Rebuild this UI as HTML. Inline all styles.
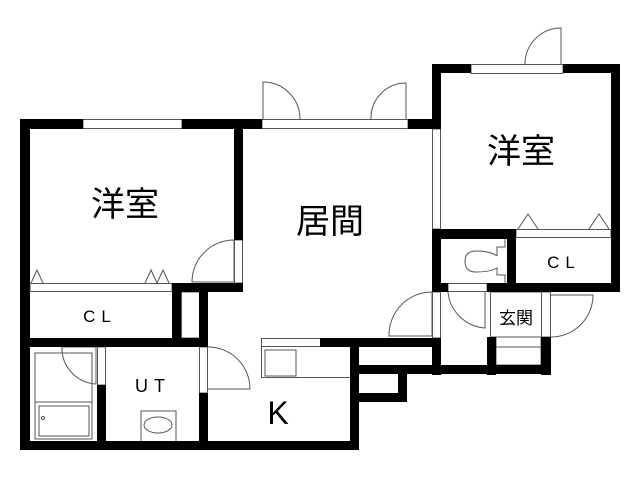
<!DOCTYPE html>
<html><head><meta charset="utf-8"><style>
html,body{margin:0;padding:0;background:#fff;width:640px;height:480px;overflow:hidden}
text{font-family:"Liberation Sans","Noto Sans CJK JP",sans-serif;fill:#000}
</style></head><body>
<svg width="640" height="480" viewBox="0 0 640 480" xmlns="http://www.w3.org/2000/svg">
<g fill="none" stroke="#555" stroke-width="1">
<!-- windows -->
<rect x="83" y="119.5" width="99" height="9" fill="#fff"/>
<rect x="262" y="119.5" width="146" height="9" fill="#fff"/>
<rect x="471" y="64.5" width="92" height="9" fill="#fff"/>
<!-- thin walls -->
<rect x="432.5" y="129" width="8" height="100"/>
<rect x="432.5" y="292" width="8" height="46"/>
<rect x="234.5" y="240" width="8" height="43"/>
<rect x="97.5" y="347" width="8" height="38"/>
<rect x="199.5" y="347" width="8" height="46"/>
<rect x="448" y="283.5" width="39" height="8" fill="#fff"/>
<rect x="541.5" y="292" width="9" height="45"/>
<!-- CL rails -->
<rect x="30" y="283.5" width="142" height="8"/>
<rect x="516" y="229.5" width="95" height="8"/>
<rect x="181.5" y="292" width="18" height="46"/>
<!-- genkan -->
<rect x="490.5" y="292" width="51" height="45"/>
<rect x="496" y="337" width="45" height="28"/>
<line x1="496" y1="347" x2="541" y2="347"/>
<!-- kitchen counter -->
<rect x="261.5" y="338.5" width="89" height="39"/>
<rect x="261.5" y="338.5" width="59" height="8"/>
<rect x="265" y="350" width="31" height="26"/>
<!-- bath -->
<rect x="35" y="353" width="57" height="86"/>
<line x1="35" y1="402" x2="92" y2="402"/>
<rect x="39" y="406" width="50" height="30"/>
<circle cx="43" cy="418" r="1.5"/>
<!-- washbasin -->
<rect x="141" y="411" width="35" height="31"/>
<ellipse cx="158" cy="425" rx="14" ry="8"/>
<!-- toilet -->
<path d="M497 256 L497 247 L505 247 L505 239 M505 283 L505 275 L497 275 L497 268 Q490 272 476 272 Q465 272 465 261.5 Q465 251 476 251 Q490 251 497 256"/>
<!-- doors -->
<path d="M263 119 L263 82 A37 37 0 0 1 300 119"/>
<path d="M406 119 L406 83 A35 35 0 0 0 371 119"/>
<path d="M561 64 L561 28 A36 36 0 0 0 525 64"/>
<path d="M234 240 L234 282 L192 282 A42 42 0 0 1 234 240"/>
<path d="M432 292 L432 336 L389 336 A43 43 0 0 1 432 292"/>
<path d="M448 292 A40 40 0 0 0 485 328 L485 292"/>
<path d="M551 295 L593 295 A42 42 0 0 1 551 337"/>
<path d="M208 347 A42 42 0 0 1 250 389 L208 389"/>
<path d="M62 347 L96 347 L96 384 A36 36 0 0 1 62 347"/>
<!-- closet triangles -->
<path d="M31 283 L37 270 L43 283 M145 283 L151 270 L157 283 L163 270 L169 283"/>
<path d="M518 229 L528 214 L538 229 M589 229 L599 214 L609 229"/>
</g>
<g fill="#000">
<!-- left room -->
<rect x="20" y="119" width="10" height="331"/>
<rect x="20" y="119" width="63" height="10"/>
<rect x="182" y="119" width="80" height="10"/>
<rect x="234" y="129" width="9" height="111"/>
<rect x="172" y="283" width="71" height="9"/>
<rect x="172" y="283" width="9" height="55"/>
<rect x="199" y="283" width="9" height="64"/>
<rect x="20" y="338" width="188" height="9"/>
<rect x="97" y="385" width="9" height="60"/>
<rect x="199" y="393" width="9" height="52"/>
<rect x="20" y="441" width="339" height="9"/>
<!-- living / right -->
<rect x="408" y="119" width="33" height="10"/>
<rect x="432" y="64" width="9" height="65"/>
<rect x="432" y="64" width="39" height="9"/>
<rect x="563" y="64" width="57" height="9"/>
<rect x="611" y="64" width="9" height="228"/>
<rect x="432" y="229" width="84" height="10"/>
<rect x="432" y="229" width="9" height="63"/>
<rect x="507" y="229" width="9" height="63"/>
<rect x="432" y="283" width="16" height="9"/>
<rect x="487" y="283" width="133" height="9"/>
<!-- kitchen/genkan lower -->
<rect x="320" y="338" width="121" height="9"/>
<rect x="350" y="338" width="9" height="112"/>
<rect x="432" y="338" width="9" height="37"/>
<rect x="359" y="365" width="192" height="9"/>
<rect x="487" y="337" width="9" height="38"/>
<rect x="541" y="337" width="10" height="38"/>
<rect x="398" y="374" width="9" height="28"/>
<rect x="359" y="393" width="48" height="9"/>
</g>
<text x="125" y="216" font-size="34" text-anchor="middle">洋室</text>
<text x="330" y="233" font-size="34" text-anchor="middle">居間</text>
<text x="521" y="163" font-size="34" text-anchor="middle">洋室</text>
<text x="100" y="322" font-size="17" text-anchor="middle" letter-spacing="6">CL</text>
<text x="564" y="268" font-size="17" text-anchor="middle" letter-spacing="6">CL</text>
<text x="153" y="392" font-size="18" text-anchor="middle" letter-spacing="6">UT</text>
<text x="278" y="424" font-size="32" text-anchor="middle">K</text>
<text x="516" y="324" font-size="17" text-anchor="middle">玄関</text>
</svg>
</body></html>
